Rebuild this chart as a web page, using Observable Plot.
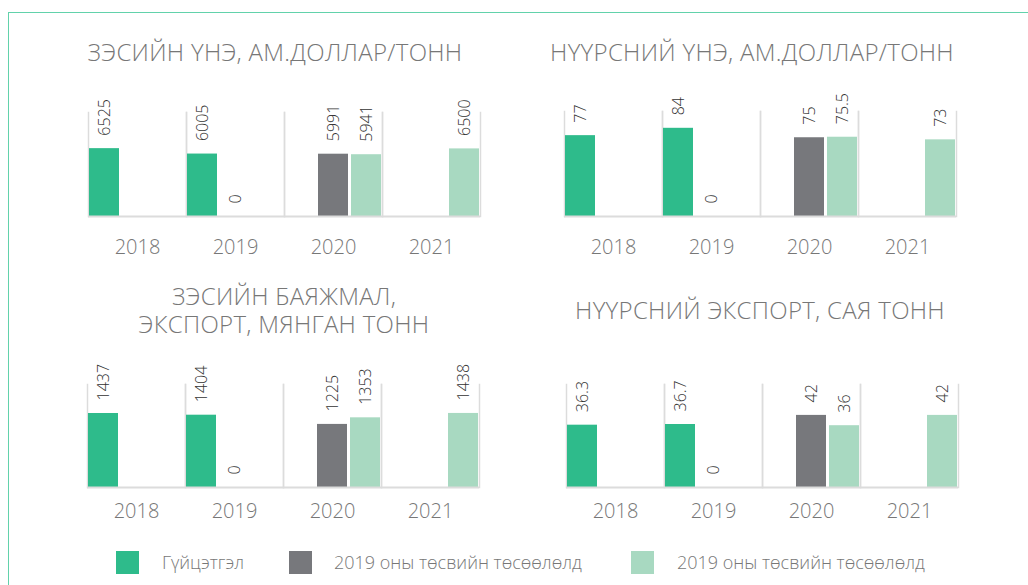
<!DOCTYPE html>
<html>
<head>
<meta charset="utf-8">
<script src="https://cdn.jsdelivr.net/npm/d3@7"></script>
<script src="https://cdn.jsdelivr.net/npm/@observablehq/plot@0.6"></script>
<style>
  html, body { margin: 0; padding: 0; background: #fff; }
  body { width: 1028px; height: 585px; position: relative; overflow: hidden; font-family: "Open Sans", sans-serif; }
  .frame { position: absolute; left: 8px; top: 12px; width: 1100px; height: 700px; border: 1.5px solid #62d2ab; box-sizing: border-box; }
  .title { position: absolute; width: 500px; height: 28px; text-align: center; color: #777; font-size: 24px; font-weight: 300; line-height: 28px; letter-spacing: 0.3px; white-space: nowrap; }
  .chart { position: absolute; }
  .legend { position: absolute; top: 551px; left: 0; width: 1028px; height: 24px; }
  .sw { position: absolute; width: 23px; height: 23px; top: 0; }
  .lt { position: absolute; top: 0; line-height: 23px; font-size: 18px; color: #777; font-weight: 300; white-space: nowrap; }
</style>
</head>
<body>
<div class="frame"></div>
<div id="root"></div>
<script>
const years = ["2018", "2019", "2020", "2021"];
const seriesKeys = ["actual", "budget", "outlook"];
const seriesLabels = ["Гүйцэтгэл", "2019 оны төсвийн төсөөлөлд", "2019 оны төсвийн төсөөлөлд"];
const seriesColors = ["#2ebb8b", "#77787c", "#a8d9c1"];

const titles = [
  ["ЗЭСИЙН ҮНЭ, АМ.ДОЛЛАР/ТОНН"],
  ["НҮҮРСНИЙ ҮНЭ, АМ.ДОЛЛАР/ТОНН"],
  ["ЗЭСИЙН БАЯЖМАЛ,", "ЭКСПОРТ, МЯНГАН ТОНН"],
  ["НҮҮРСНИЙ ЭКСПОРТ, САЯ ТОНН"]
];
const yMax = [10000, 100, 2000, 60];

// values per series, by year (null = no bar)
const copperPriceActual  = [6525, 6005, null, null];
const copperPriceBudget  = [null, 0, 5991, null];
const copperPriceOutlook = [null, null, 5941, 6500];

const coalPriceActual  = [77, 84, null, null];
const coalPriceBudget  = [null, 0, 75, null];
const coalPriceOutlook = [null, null, 75.5, 73];

const copperExportActual  = [1437, 1404, null, null];
const copperExportBudget  = [null, 0, 1225, null];
const copperExportOutlook = [null, null, 1353, 1438];

const coalExportActual  = [36.3, 36.7, null, null];
const coalExportBudget  = [null, 0, 42, null];
const coalExportOutlook = [null, null, 36, 42];

const panelsData = [
  [copperPriceActual, copperPriceBudget, copperPriceOutlook],
  [coalPriceActual, coalPriceBudget, coalPriceOutlook],
  [copperExportActual, copperExportBudget, copperExportOutlook],
  [coalExportActual, coalExportBudget, coalExportOutlook]
];

// layout: plot area left edge, gridline top, baseline; year-label padding; title center & top
const layout = [
  {left: 88, top: 112, base: 216, pad: 23, tcx: 275, ttop: 38},
  {left: 564, top: 111, base: 216, pad: 23, tcx: 752, ttop: 38},
  {left: 87, top: 384, base: 487, pad: 16, tcx: 284, ttop: 282},
  {left: 566, top: 384, base: 487, pad: 16, tcx: 760, ttop: 296}
];

const root = document.getElementById("root");
const plotW = 392, mL = 10, mR = 10, mT = 45, mB = 50;

panelsData.forEach((arrs, pi) => {
  const rows = [];
  arrs.forEach((arr, si) => {
    arr.forEach((v, yi) => {
      if (v !== null) rows.push({year: years[yi], series: seriesKeys[si], value: v});
    });
  });
  const L = layout[pi];
  const innerH = L.base - L.top;
  const chart = Plot.plot({
    width: plotW + mL + mR,
    height: innerH + mT + mB,
    marginLeft: mL, marginRight: mR, marginTop: mT, marginBottom: mB,
    style: {fontFamily: "'Open Sans', sans-serif", background: "transparent", fontSize: "20px", fontWeight: "300", color: "#777"},
    fx: {domain: years, padding: 0, label: null, axis: "bottom", tickSize: 0, tickPadding: L.pad},
    x: {domain: seriesKeys, paddingInner: 0.1, paddingOuter: 0, axis: null},
    y: {domain: [0, yMax[pi]], axis: null},
    color: {domain: seriesKeys, range: seriesColors},
    marks: [
      Plot.frame({anchor: "left", stroke: "#dcdcdc", strokeWidth: 1.5}),
      Plot.frame({anchor: "right", stroke: "#dcdcdc", strokeWidth: 1.5}),
      Plot.barY(rows, {fx: "year", x: "series", y: "value", fill: "series"}),
      Plot.ruleY([0], {stroke: "#dcdcdc", strokeWidth: 2}),
      Plot.text(rows, {fx: "year", x: "series", y: "value", text: d => String(d.value), rotate: -90, textAnchor: "start", lineAnchor: "middle", dy: -13, fontSize: 16, fill: "#333", fontWeight: 300})
    ]
  });
  chart.classList.add("chart");
  chart.style.left = (L.left - mL) + "px";
  chart.style.top = (L.top - mT) + "px";
  root.appendChild(chart);

  titles[pi].forEach((line, li) => {
    const t = document.createElement("div");
    t.className = "title";
    t.style.left = (L.tcx - 250) + "px";
    t.style.top = (L.ttop + li * 28) + "px";
    t.textContent = line;
    root.appendChild(t);
  });
});

// legend
const legend = document.createElement("div");
legend.className = "legend";
const swX = [116, 289, 631];
const txX = [162, 334, 677];
seriesKeys.forEach((k, i) => {
  const s = document.createElement("div");
  s.className = "sw"; s.style.left = swX[i] + "px"; s.style.background = seriesColors[i];
  const tx = document.createElement("div");
  tx.className = "lt"; tx.style.left = txX[i] + "px"; tx.textContent = seriesLabels[i];
  legend.appendChild(s); legend.appendChild(tx);
});
root.appendChild(legend);
</script>
</body>
</html>
